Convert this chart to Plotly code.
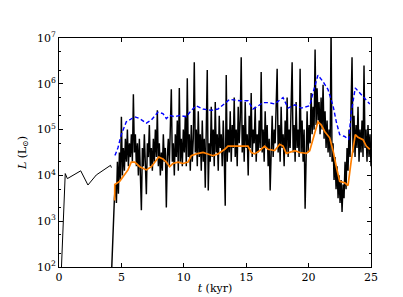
import plotly.graph_objects as go

# Early phase (t in kyr, log10 L)
t_early = [0.19, 0.50, 0.67, 1.74, 2.32, 2.99, 4.13, 4.20]
logL_early = [1.95, 4.04, 3.93, 4.10, 3.79, 4.01, 4.22, 4.17]

# Main noisy luminosity (sampled every 0.08 kyr starting 4.20)
t0_main = 4.20
dt_main = 0.08
logL_main = [
    1.8, 2.5, 3.0, 3.5, 3.8, 3.4, 4.3, 3.6, 4.5, 3.9,
    5.28, 4.0, 4.6, 4.1, 4.8, 4.3, 5.0, 4.2, 4.7, 4.4,
    4.9, 4.3, 5.77, 4.5, 4.9, 4.2, 4.7, 4.0, 4.8, 3.9,
    3.24, 4.6, 4.2, 4.9, 4.3, 3.59, 4.7, 4.4, 5.1, 4.2,
    4.6, 4.1, 4.8, 4.3, 5.0, 4.4, 5.42, 4.2, 4.7, 4.0,
    4.5, 4.1, 4.9, 4.3, 4.6, 3.3, 4.4, 4.8, 4.2, 5.1,
    5.88, 4.3, 4.7, 4.0, 4.9, 4.4, 5.2, 4.1, 5.91, 4.3,
    4.8, 4.2, 5.0, 4.5, 5.3, 4.2, 6.12, 4.4, 4.9, 4.1,
    5.1, 4.3, 4.8, 6.47, 4.5, 5.0, 4.2, 5.4, 4.4, 4.9,
    4.1, 5.2, 4.3, 4.8, 3.73, 5.0, 6.3, 3.67, 4.7, 4.3,
    5.5, 4.4, 5.0, 4.2, 5.6, 4.5, 4.9, 4.1, 5.3, 4.6,
    4.9, 4.2, 5.2, 4.4, 3.34, 6.19, 4.3, 5.0, 4.5, 5.4,
    4.3, 5.1, 4.6, 5.7, 4.4, 5.0, 4.2, 5.5, 4.7, 5.2,
    6.58, 4.5, 5.1, 4.3, 5.6, 4.6, 4.9, 4.0, 5.3, 4.6,
    5.8, 4.4, 5.0, 4.7, 5.5, 4.3, 4.9, 4.5, 5.2, 4.6,
    6.26, 4.5, 5.0, 4.3, 5.4, 4.6, 5.1, 4.2, 4.8, 3.67,
    4.6, 5.3, 4.4, 5.0, 4.7, 5.6, 6.33, 4.5, 5.1, 4.3,
    5.5, 4.6, 4.9, 4.2, 5.2, 4.5, 5.7, 4.4, 5.0, 4.6,
    5.3, 6.47, 4.5, 5.1, 4.3, 5.6, 4.6, 5.0, 4.4, 6.33,
    4.5, 5.2, 4.3, 5.0, 3.27, 4.6, 5.4, 4.5, 5.1, 4.7,
    5.8, 4.9, 5.5, 5.0, 6.75, 5.1, 5.9, 5.2, 5.6, 4.9,
    5.7, 5.0, 5.98, 4.8, 5.4, 4.6, 5.2, 4.5, 5.0, 4.4,
    7.2, 4.3, 4.7, 3.9, 4.4, 3.7, 4.2, 3.5, 4.0, 3.4,
    3.9, 3.2, 3.8, 3.5, 4.3, 3.7, 4.6, 4.1, 5.0, 4.4,
    5.4, 6.58, 4.5, 5.3, 4.4, 5.1, 4.6, 5.5, 4.3, 5.0,
    4.5, 5.2, 4.4, 6.4, 4.6, 5.0, 4.3, 5.1, 4.4, 4.9,
    4.2,
]
t_main = [round(t0_main + dt_main * i, 2) for i in range(len(logL_main))]

# Smoothed (orange) curve
t_avg = [4.46, 4.47, 4.86, 5.13, 5.53, 5.79, 6.07, 6.47, 7.00, 7.40, 7.99, 8.33, 8.60,
         8.87, 9.13, 9.54, 9.94, 10.34, 10.60, 11.00, 11.54, 12.34, 12.74, 13.28,
         13.54, 14.74, 15.14, 15.41, 15.68, 16.08, 16.48, 16.75, 17.28, 17.68,
         17.95, 18.21, 18.89, 19.29, 19.82, 20.09, 20.49, 20.75, 21.02, 21.29,
         21.69, 21.96, 22.22, 22.49, 22.89, 23.16, 23.42, 23.74, 23.96, 24.36,
         24.62, 24.90]
logL_avg = [3.45, 3.80, 3.87, 3.98, 4.12, 4.29, 4.29, 4.19, 4.12, 4.19, 4.40, 4.36, 4.29,
            4.19, 4.26, 4.29, 4.26, 4.29, 4.43, 4.47, 4.50, 4.43, 4.47, 4.57,
            4.64, 4.64, 4.64, 4.50, 4.47, 4.54, 4.64, 4.57, 4.54, 4.68,
            4.64, 4.48, 4.54, 4.50, 4.48, 4.54, 4.89, 5.17, 5.10, 4.96,
            4.82, 4.54, 4.19, 3.87, 3.84, 3.78, 4.33, 4.89, 4.83, 4.78,
            4.64, 4.57]

# Blue dashed curve
t_blue = [4.45, 4.51, 4.73, 4.99, 5.39, 6.07, 6.47, 7.00, 7.40, 7.93, 8.33, 8.60, 8.87,
          9.27, 9.67, 10.20, 10.60, 11.00, 11.54, 12.20, 12.74, 13.28, 13.68,
          14.48, 15.14, 15.54, 15.81, 16.35, 16.75, 17.28, 17.81, 17.95, 18.35,
          18.89, 19.42, 20.09, 20.35, 20.75, 21.15, 21.55, 21.96, 22.22, 22.49,
          22.89, 23.21, 23.42, 23.74, 24.10, 24.62, 24.90]
logL_blue = [4.45, 4.45, 4.61, 4.89, 5.17, 5.28, 5.24, 5.14, 5.21, 5.38, 5.35, 5.24, 5.31,
             5.28, 5.31, 5.28, 5.42, 5.52, 5.45, 5.42, 5.45, 5.56, 5.66,
             5.63, 5.63, 5.45, 5.49, 5.59, 5.59, 5.56, 5.66, 5.70, 5.47,
             5.54, 5.47, 5.52, 5.80, 6.19, 6.05, 5.88, 5.52, 5.17, 4.89,
             4.85, 4.78, 5.38, 5.91, 5.80, 5.63, 5.56]

ytick_vals = [1e2, 1e3, 1e4, 1e5, 1e6, 1e7]
ytick_text = ["10<sup>2</sup>", "10<sup>3</sup>", "10<sup>4</sup>",
              "10<sup>5</sup>", "10<sup>6</sup>", "10<sup>7</sup>"]
xtick_vals = [0, 5, 10, 15, 20, 25]

def tolin(a):
    return [10 ** v for v in a]

fig = go.Figure()
fig.add_trace(go.Scatter(x=t_early, y=tolin(logL_early), mode="lines",
                         line=dict(color="black", width=1.0), showlegend=False))
fig.add_trace(go.Scatter(x=t_main, y=tolin(logL_main), mode="lines",
                         line=dict(color="black", width=1.45), showlegend=False))
fig.add_trace(go.Scatter(x=t_blue, y=tolin(logL_blue), mode="lines",
                         line=dict(color="blue", width=1.4, dash="4px,2.5px"), showlegend=False))
fig.add_trace(go.Scatter(x=t_avg, y=tolin(logL_avg), mode="lines",
                         line=dict(color="#ff7f00", width=1.7), showlegend=False))

serif = "DejaVu Serif"
fig.update_layout(
    width=403, height=297,
    margin=dict(l=51, r=40, t=30, b=30),
    paper_bgcolor="white", plot_bgcolor="white",
    font=dict(family=serif, size=11, color="black"),
    xaxis=dict(range=[0, 25], tickvals=xtick_vals, ticks="inside", ticklen=4,
               tickcolor="black", showline=True, linecolor="black", linewidth=1,
               mirror="ticks", showgrid=False, zeroline=False,
               tickfont=dict(family=serif, size=11, color="black"),
               title=dict(text="<i>t</i> (kyr)", standoff=1,
                          font=dict(family=serif, size=11, color="black"))),
    yaxis=dict(type="log", range=[2, 7], tickvals=ytick_vals, ticktext=ytick_text,
               ticks="inside", ticklen=4, tickcolor="black", showline=True,
               linecolor="black", linewidth=1, mirror="ticks", showgrid=False,
               zeroline=False, tickfont=dict(family=serif, size=11, color="black"),
               minor=dict(ticks="inside", ticklen=2, tickcolor="black", showgrid=False),
               title=dict(text="<i>L</i> (L<sub>⊙</sub>)", standoff=8,
                          font=dict(family=serif, size=11, color="black"))),
)

fig.write_html("out.html")
